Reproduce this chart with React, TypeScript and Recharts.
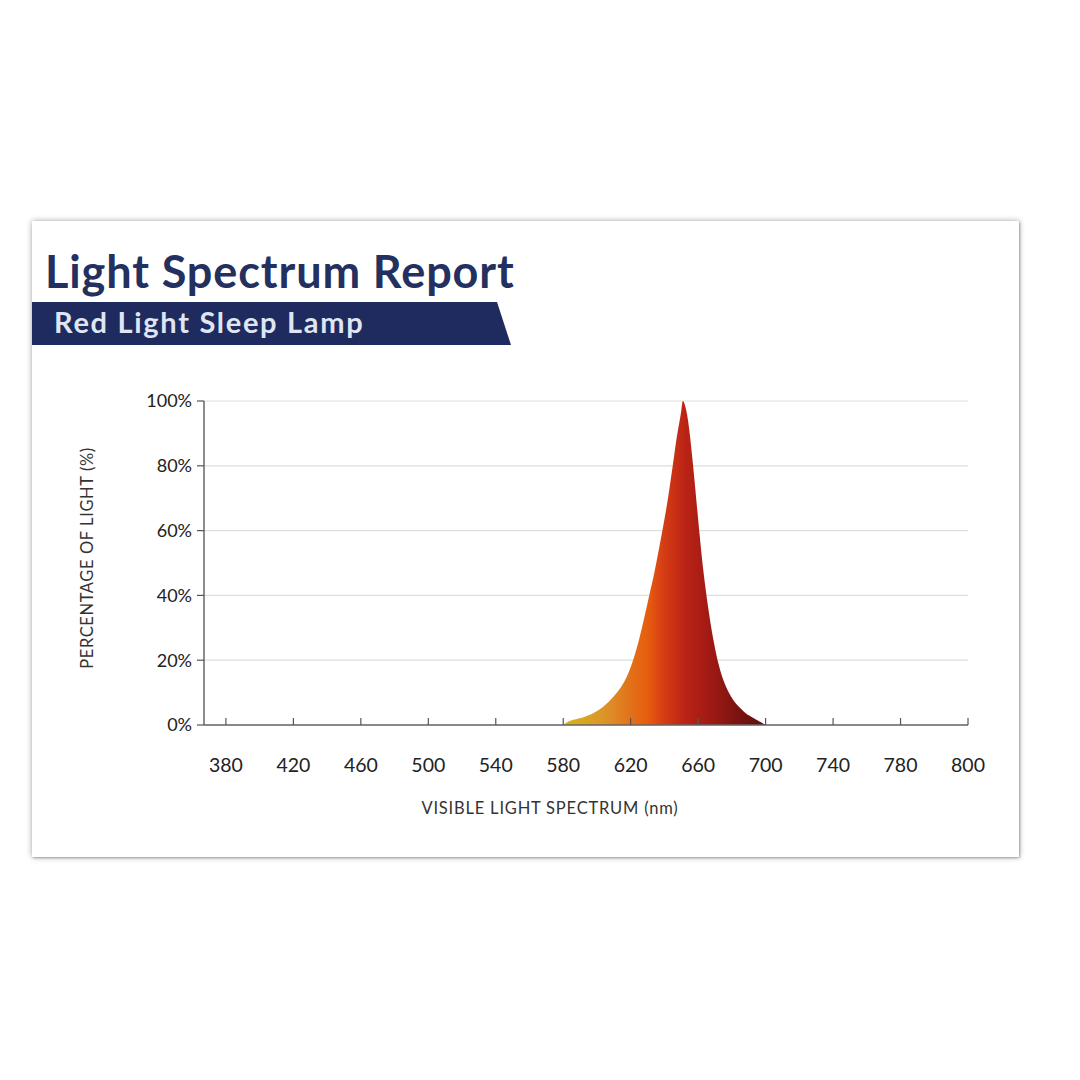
import React from "react";
import {
  AreaChart,
  Area,
  CartesianGrid,
  XAxis,
  YAxis,
} from "recharts";

// wavelength (nm) and relative intensity (%)
const wavelengths = [
  580, 583, 586, 589, 592, 595, 598, 601, 604, 607, 610, 613, 616, 619, 622,
  625, 628, 631, 634, 637, 640, 643, 646, 648, 650, 651, 653, 655, 657, 659,
  661, 663, 666, 669, 672, 675, 678, 681, 684, 687, 690, 694, 697, 700,
];
const intensity = [
  0, 1.1, 1.6, 2, 2.4, 3, 3.7, 4.6, 5.8, 7.2, 8.9, 10.8, 13.2, 16.5, 21,
  26.5, 33, 40, 47, 55, 63.5, 73, 84, 91, 97, 100, 97, 90, 80, 69,
  58, 48, 36, 26.4, 19, 13.8, 10.2, 7.6, 5.7, 4.2, 3, 1.8, 0.9, 0,
];

// the last tick is drawn at the same spacing as the others but reads 800
const xTicks = [380, 420, 460, 500, 540, 580, 620, 660, 700, 740, 780, 820];
const xTickLabels = [
  "380", "420", "460", "500", "540", "580", "620", "660", "700", "740", "780", "800",
];
const yTicks = [0, 20, 40, 60, 80, 100];

const data = wavelengths.map((nm, i) => ({ nm, value: intensity[i] }));

const FONT = "Lato, 'Open Sans', sans-serif";
const NAVY = "#1f2a5e";

const XTick = ({ x, y, payload }: any) => {
  const axisY = y - 30;
  const idx = xTicks.indexOf(payload.value);
  return (
    <g>
      <line x1={x} x2={x} y1={axisY - 7} y2={axisY} stroke="#555" strokeWidth={1.2} />
      <text
        x={x}
        y={axisY + 39}
        textAnchor="middle"
        dominantBaseline="central"
        fontFamily={FONT}
        fontSize={19.5}
        fill="#222"
      >
        {idx >= 0 ? xTickLabels[idx] : payload.value}
      </text>
    </g>
  );
};

export default function App() {
  return (
    <div
      style={{
        position: "absolute",
        left: 0,
        top: 0,
        width: 1080,
        height: 1080,
        background: "#fff",
        overflow: "hidden",
      }}
    >
      {/* card */}
      <div
        style={{
          position: "absolute",
          left: 32,
          top: 221,
          width: 987,
          height: 636,
          background: "#fff",
          boxShadow: "0 0 6px rgba(0,0,0,0.35), 1px 1px 2px rgba(0,0,0,0.25)",
        }}
      />
      <div
        style={{
          position: "absolute",
          left: 45,
          top: 244,
          fontFamily: FONT,
          fontWeight: 700,
          fontSize: 45,
          letterSpacing: 0.9,
          lineHeight: "54px",
          color: "#243060",
          whiteSpace: "nowrap",
        }}
      >
        Light Spectrum Report
      </div>
      <svg
        style={{ position: "absolute", left: 0, top: 0 }}
        width={1080}
        height={1080}
      >
        <polygon points="32,302 497,302 511,345 32,345" fill={NAVY} />
      </svg>
      <div
        style={{
          position: "absolute",
          left: 54,
          top: 302,
          fontFamily: FONT,
          fontWeight: 700,
          fontSize: 29,
          letterSpacing: 1.7,
          lineHeight: "40px",
          color: "#dfe6f3",
          whiteSpace: "nowrap",
        }}
      >
        Red Light Sleep Lamp
      </div>

      <div style={{ position: "absolute", left: 0, top: 0 }}>
        <AreaChart
          width={1080}
          height={1080}
          data={data}
          margin={{ top: 401, right: 112, bottom: 325, left: 144 }}
        >
          <defs>
            <linearGradient id="spectrum" x1="0" y1="0" x2="1" y2="0">
              <stop offset="0" stopColor="#d6b41a" />
              <stop offset="0.2" stopColor="#dc952a" />
              <stop offset="0.33" stopColor="#e3721a" />
              <stop offset="0.42" stopColor="#e65c0e" />
              <stop offset="0.5" stopColor="#d43c14" />
              <stop offset="0.6" stopColor="#bb2416" />
              <stop offset="0.72" stopColor="#a11a14" />
              <stop offset="0.85" stopColor="#7e1411" />
              <stop offset="1" stopColor="#5a0f0f" />
            </linearGradient>
          </defs>
          <CartesianGrid
            vertical={false}
            stroke="#dedede"
            strokeWidth={1.2}
          />
          <XAxis
            dataKey="nm"
            type="number"
            domain={[367, 820]}
            ticks={xTicks}
            interval={0}
            height={30}
            tickSize={0}
            tickMargin={30}
            tick={<XTick />}
            axisLine={{ stroke: "#666", strokeWidth: 1.5 }}
            tickLine={false}
          />
          <YAxis
            type="number"
            domain={[0, 100]}
            ticks={yTicks}
            width={60}
            tickSize={7}
            tickMargin={5}
            tickFormatter={(v: number) => `${v}%`}
            tick={{ fontFamily: FONT, fontSize: 18, fill: "#222" }}
            axisLine={{ stroke: "#666", strokeWidth: 1.5 }}
            tickLine={{ stroke: "#555", strokeWidth: 1.2 }}
          />
          <Area
            type="natural"
            dataKey="value"
            stroke="none"
            fill="url(#spectrum)"
            fillOpacity={1}
            isAnimationActive={false}
          />
        </AreaChart>
      </div>

      <div
        style={{
          position: "absolute",
          left: 87,
          top: 558,
          transform: "translate(-50%, -50%) rotate(-90deg)",
          fontFamily: FONT,
          fontSize: 16.5,
          letterSpacing: 0.6,
          color: "#333",
          whiteSpace: "nowrap",
        }}
      >
        PERCENTAGE OF LIGHT (%)
      </div>
      <div
        style={{
          position: "absolute",
          left: 550,
          top: 808,
          transform: "translate(-50%, -50%)",
          fontFamily: FONT,
          fontSize: 16.5,
          letterSpacing: 0.8,
          color: "#333",
          whiteSpace: "nowrap",
        }}
      >
        VISIBLE LIGHT SPECTRUM (nm)
      </div>
    </div>
  );
}
